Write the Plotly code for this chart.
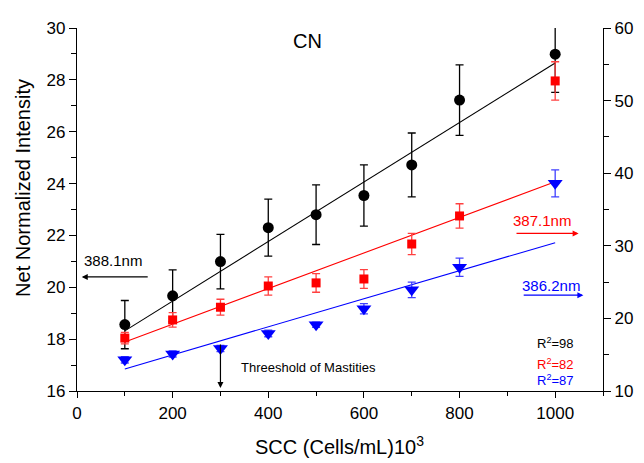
import plotly.graph_objects as go

# ---- data ----
x_scc = [100, 200, 300, 400, 500, 600, 700, 800, 1000]

# 388.1 nm (left axis)
black_y = [18.56, 19.67, 20.99, 22.30, 22.80, 23.54, 24.72, 27.22, 28.99]
black_err = [0.93, 1.00, 1.05, 1.10, 1.15, 1.18, 1.23, 1.36, 1.47]

# 387.1 nm (right axis)
red_y = [17.29, 19.79, 21.54, 24.46, 24.89, 25.43, 30.25, 34.11, 52.71]
red_err = [0.79, 1.00, 1.10, 1.25, 1.29, 1.29, 1.46, 1.68, 2.64]

# 386.2 nm (right axis)
blue_y = [14.29, 15.11, 15.86, 17.93, 19.14, 21.32, 23.93, 27.04, 38.61]
blue_err = [0.43, 0.43, 0.43, 0.46, 0.36, 0.71, 1.07, 1.25, 1.86]

# linear fits (end points)
fit_x = [100, 1000]
black_fit = [18.32, 28.65]
red_fit = [16.75, 38.82]
blue_fit = [13.04, 30.43]

x_tickvals = [0, 200, 400, 600, 800, 1000]
y_left_ticks = [16, 18, 20, 22, 24, 26, 28, 30]
y_right_ticks = [10, 20, 30, 40, 50, 60]

FONT = "Arial, Liberation Sans, sans-serif"

fig = go.Figure()

fig.add_trace(go.Scatter(x=fit_x, y=black_fit, mode="lines",
                         line=dict(color="black", width=1.1), yaxis="y", showlegend=False))
fig.add_trace(go.Scatter(x=fit_x, y=red_fit, mode="lines",
                         line=dict(color="#ff0000", width=1.1), yaxis="y2", showlegend=False))
fig.add_trace(go.Scatter(x=fit_x, y=blue_fit, mode="lines",
                         line=dict(color="#0000ff", width=1.1), yaxis="y2", showlegend=False))

fig.add_trace(go.Scatter(
    x=x_scc, y=black_y, mode="markers", yaxis="y", showlegend=False,
    marker=dict(symbol="circle", size=11, color="black"),
    error_y=dict(type="data", array=black_err, color="black", thickness=1.3, width=4)))
fig.add_trace(go.Scatter(
    x=x_scc, y=red_y, mode="markers", yaxis="y2", showlegend=False,
    marker=dict(symbol="square", size=9, color="#ff0000"),
    error_y=dict(type="data", array=red_err, color="#ff4040", thickness=1.3, width=4)))
fig.add_trace(go.Scatter(
    x=x_scc, y=blue_y, mode="markers", yaxis="y2", showlegend=False,
    marker=dict(symbol="triangle-down", size=13, color="#0000ff"),
    error_y=dict(type="data", array=blue_err, color="#4040ff", thickness=1.3, width=4)))

axis_common = dict(showgrid=False, zeroline=False, showline=True, linecolor="black",
                   linewidth=1.3, tickcolor="black", tickwidth=1.3,
                   tickfont=dict(family=FONT, size=17, color="black"))

# the page body keeps its default 8px margin, so the figure is 8px smaller
fig.update_layout(
    width=636, height=455,
    margin=dict(l=69, r=34, t=11, b=72),
    paper_bgcolor="white", plot_bgcolor="white",
    font=dict(family=FONT, color="black"),
    xaxis=dict(range=[0, 1100], tickvals=x_tickvals, ticks="outside", ticklen=6,
               minor=dict(dtick=100, tick0=0, ticks="outside", ticklen=4,
                          tickcolor="black", tickwidth=1.3),
               **axis_common),
    xaxis2=dict(range=[0, 1100], overlaying="x", side="top", anchor="y",
                tickvals=x_tickvals, ticks="inside", ticklen=5, showticklabels=False,
                minor=dict(dtick=100, tick0=0, ticks="inside", ticklen=5,
                           tickcolor="black", tickwidth=1.3),
                **axis_common),
    yaxis=dict(range=[16, 30], tickvals=y_left_ticks, ticks="outside", ticklen=7,
               minor=dict(dtick=1, tick0=16, ticks="outside", ticklen=5,
                          tickcolor="black", tickwidth=1.3),
               **axis_common),
    yaxis2=dict(range=[10, 60], tickvals=y_right_ticks, overlaying="y", side="right",
                anchor="x", ticks="outside", ticklen=7,
                minor=dict(dtick=5, tick0=10, ticks="outside", ticklen=5,
                           tickcolor="black", tickwidth=1.3),
                **axis_common),
)

C = dict(xanchor="center", yanchor="middle")
annotations = [
    # axis titles
    dict(text="Net Normalized Intensity", xref="paper", yref="paper", x=-0.103, y=0.559,
         textangle=-90, showarrow=False, font=dict(size=20), **C),
    dict(text="SCC (Cells/mL)10<sup>3</sup>", xref="paper", yref="paper", x=0.499, y=-0.15,
         showarrow=False, font=dict(size=20), **C),
    # title
    dict(text="CN", xref="x", yref="y", x=483, y=29.51, showarrow=False, font=dict(size=20), **C),
    # wavelength labels
    dict(text="388.1nm", xref="x", yref="y", x=76, y=21.05, showarrow=False,
         font=dict(size=15, color="black"), **C),
    dict(text="", xref="x", yref="y", x=10, y=20.40, axref="x", ayref="y", ax=151, ay=20.40,
         showarrow=True, arrowhead=2, arrowsize=1, arrowwidth=1.2, arrowcolor="black"),
    dict(text="387.1nm", xref="x", yref="y2", x=972, y=33.5, showarrow=False,
         font=dict(size=15, color="#ff0000"), **C),
    dict(text="", xref="x", yref="y2", x=1049, y=31.7, axref="x", ayref="y2", ax=916, ay=31.7,
         showarrow=True, arrowhead=2, arrowsize=1, arrowwidth=1.2, arrowcolor="#ff0000"),
    dict(text="386.2nm", xref="x", yref="y2", x=991, y=24.5, showarrow=False,
         font=dict(size=15, color="#0000ff"), **C),
    dict(text="", xref="x", yref="y2", x=1059, y=23.2, axref="x", ayref="y2", ax=931, ay=23.2,
         showarrow=True, arrowhead=2, arrowsize=1, arrowwidth=1.2, arrowcolor="#0000ff"),
    # threshold
    dict(text="Threeshold of Mastities", xref="x", yref="y", x=338, y=16.9, xanchor="left",
         yanchor="middle", showarrow=False, font=dict(size=13, color="black")),
    dict(text="", xref="x", yref="y", x=300, y=16.12, axref="x", ayref="y", ax=300, ay=17.85,
         showarrow=True, arrowhead=2, arrowsize=1, arrowwidth=1.2, arrowcolor="black"),
    # R^2
    dict(text="R<sup>2</sup>=98", xref="x", yref="y", x=1001, y=17.85, showarrow=False,
         font=dict(size=13, color="black"), **C),
    dict(text="R<sup>2</sup>=82", xref="x", yref="y", x=1001, y=17.06, showarrow=False,
         font=dict(size=13, color="#ff0000"), **C),
    dict(text="R<sup>2</sup>=87", xref="x", yref="y", x=1001, y=16.41, showarrow=False,
         font=dict(size=13, color="#0000ff"), **C),
]
fig.update_layout(annotations=annotations)

fig.write_html("out.html")
